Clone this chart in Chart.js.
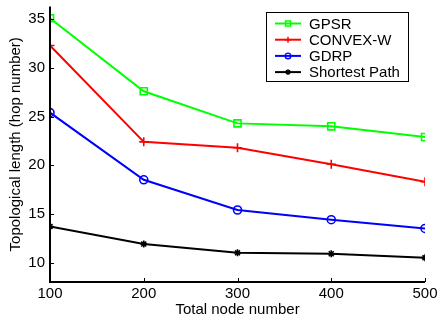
<!DOCTYPE html>
<html><head><meta charset="utf-8">
<script src="https://cdn.jsdelivr.net/npm/chart.js@4"></script>
<style>html,body{margin:0;padding:0;background:#fff}#wrap{width:438px;height:321px}</style>
</head><body><div id="wrap"><canvas id="c" width="438" height="321"></canvas></div>
<script>
const nodes = [100, 200, 300, 400, 500];
const gpsr = [35.1, 27.6, 24.3, 24.0, 22.9];
const convexW = [32.3, 22.4, 21.8, 20.1, 18.3];
const gdrp = [25.4, 18.5, 15.4, 14.4, 13.5];
const shortest = [13.7, 11.9, 11.0, 10.9, 10.5];
const yTicks = [10, 15, 20, 25, 30, 35];
const seriesNames = ['GPSR', 'CONVEX-W', 'GDRP', 'Shortest Path'];

const FONT = 'Liberation Sans, Arial, Helvetica, sans-serif';
const toXY = arr => arr.map((v, i) => ({x: nodes[i], y: v}));
const mk = (label, data, color, style, r, lr) => ({
  label, data: toXY(data), borderColor: color, backgroundColor: 'rgba(0,0,0,0)',
  pointBorderColor: color, pointBackgroundColor: 'rgba(0,0,0,0)', pointStyle: style,
  pointRadius: r, legendRadius: lr, pointBorderWidth: 1.6, borderWidth: 2, tension: 0
});

const innerTicks = {
  id: 'innerTicks',
  afterDatasetsDraw(chart) {
    const ctx = chart.ctx, x = chart.scales.x, y = chart.scales.y, a = chart.chartArea;
    ctx.save();
    ctx.strokeStyle = '#000'; ctx.lineWidth = 1;
    nodes.forEach(v => { const px = Math.round(x.getPixelForValue(v)) + 0.5;
      ctx.beginPath(); ctx.moveTo(px, a.bottom); ctx.lineTo(px, a.bottom - 4); ctx.stroke(); });
    yTicks.forEach(v => { const py = Math.round(y.getPixelForValue(v)) + 0.5;
      ctx.beginPath(); ctx.moveTo(a.left, py); ctx.lineTo(a.left + 4, py); ctx.stroke(); });
    ctx.lineWidth = 2;
    ctx.beginPath(); ctx.moveTo(a.left, a.top); ctx.lineTo(a.left, a.bottom); ctx.lineTo(a.right, a.bottom); ctx.stroke();
    // legend
    const lx = 266.5, ly = 12.5, lw = 142, lh = 69;
    ctx.fillStyle = '#fff'; ctx.fillRect(lx, ly, lw, lh);
    ctx.lineWidth = 1; ctx.strokeStyle = '#000'; ctx.strokeRect(lx, ly, lw, lh);
    ctx.font = '15px ' + FONT; ctx.textBaseline = 'middle'; ctx.textAlign = 'left';
    chart.data.datasets.forEach((ds, i) => {
      const cy = 23.5 + i * 16.2;
      ctx.strokeStyle = ds.borderColor; ctx.lineWidth = 2;
      ctx.beginPath(); ctx.moveTo(275, cy); ctx.lineTo(301, cy); ctx.stroke();
      ctx.fillStyle = 'rgba(0,0,0,0)'; ctx.lineWidth = 1.4;
      Chart.helpers.drawPoint(ctx, {pointStyle: ds.pointStyle, radius: ds.legendRadius, borderWidth: 1.4}, 288, cy);
      ctx.fillStyle = '#000';
      ctx.fillText(ds.label, 309, cy + 1);
    });
    ctx.restore();
  }
};

new Chart(document.getElementById('c'), {
  type: 'line',
  data: { datasets: [
    mk(seriesNames[0], gpsr, '#00ff00', 'rect', 5, 3.5),
    mk(seriesNames[1], convexW, '#ff0000', 'cross', 4.5, 3),
    mk(seriesNames[2], gdrp, '#0000ff', 'circle', 4, 2.8),
    mk(seriesNames[3], shortest, '#000000', 'star', 3.5, 2.8)
  ]},
  options: {
    responsive: false, animation: false, devicePixelRatio: 1,
    layout: { padding: { left: 0, right: 13, top: 0, bottom: 0 } },
    plugins: { legend: { display: false }, tooltip: { enabled: false } },
    scales: {
      x: { type: 'linear', min: 100, max: 500,
        afterFit(s) { s.height = 39; s.paddingLeft = 0; s.paddingRight = 0; },
        afterBuildTicks(s) { s.ticks = nodes.map(v => ({value: v})); },
        grid: { display: false, drawTicks: false }, border: { display: false },
        ticks: { color: '#000', font: { family: FONT, size: 15 }, padding: 3, maxRotation: 0 },
        title: { display: true, text: 'Total node number', color: '#000', font: { family: FONT, size: 15 }, padding: { top: 0, bottom: 2 } }
      },
      y: { min: 8, max: 36.3,
        afterFit(s) { s.width = 50; s.paddingTop = 0; s.paddingBottom = 0; },
        afterBuildTicks(s) { s.ticks = yTicks.map(v => ({value: v})); },
        grid: { display: false, drawTicks: false }, border: { display: false },
        ticks: { color: '#000', font: { family: FONT, size: 15 }, padding: 5 },
        title: { display: true, text: 'Topological length (hop number)', color: '#000', font: { family: FONT, size: 15 }, padding: { top: 7, bottom: 0 } }
      }
    }
  },
  plugins: [innerTicks]
});
</script></body></html>
